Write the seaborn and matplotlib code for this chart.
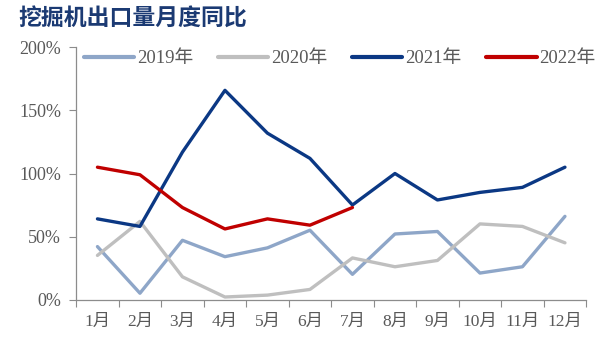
import numpy as np
import pandas as pd
import matplotlib
matplotlib.use("Agg")
import matplotlib.pyplot as plt
import seaborn as sns

# values (%)
months = ["1月", "2月", "3月", "4月", "5月", "6月", "7月", "8月", "9月", "10月", "11月", "12月"]
y2019 = [42, 5, 47, 34, 41, 55, 20, 52, 54, 21, 26, 66]
y2020 = [35, 62, 18, 2, 3.5, 8, 33, 26, 31, 60, 58, 45]
y2021 = [64, 58, 117, 166, 132, 112, 75, 100, 79, 85, 89, 105]
y2022 = [105, 99, 73, 56, 64, 59, 73]
series_names = ["2019年", "2020年", "2021年", "2022年"]
palette = ["#8EA6C8", "#BFBFBF", "#0B3884", "#C00000"]
y_ticks = [0, 50, 100, 150, 200]

rows = []
for name, vals in zip(series_names, [y2019, y2020, y2021, y2022]):
    for i, v in enumerate(vals):
        rows.append({"month": i, "value": v, "year": name})
df = pd.DataFrame(rows)

sns.set_theme(style="white")
plt.rcParams["font.family"] = ["Liberation Serif", "Noto Sans CJK SC"]

fig = plt.figure(figsize=(6, 3.57), dpi=100)
ax = fig.add_axes([0.127, 0.161, 0.85, 0.706])

sns.lineplot(data=df, x="month", y="value", hue="year", hue_order=series_names,
             palette=palette, linewidth=2.4, ax=ax, sort=False)

ax.set_xlim(-0.5, 11.5)
ax.set_ylim(0, 200)
ax.set_xlabel("")
ax.set_ylabel("")

# ticks between categories, labels at the centres
ax.set_xticks(np.arange(-0.5, 12, 1))
ax.set_xticklabels([])
ax.set_xticks(np.arange(12), minor=True)
ax.set_xticklabels(months, minor=True)
ax.tick_params(axis="x", which="major", direction="out", length=5, width=0.8, color="#8C8C8C", bottom=True)
ax.tick_params(axis="x", which="minor", length=0, pad=10, labelsize=12.5, labelcolor="#595959")

ax.set_yticks(y_ticks)
ax.set_yticklabels([f"{t}%" for t in y_ticks])
ax.tick_params(axis="y", direction="out", length=5, width=0.8, color="#8C8C8C", left=True,
               labelsize=13, labelcolor="#595959", pad=6)

for s in ["top", "right"]:
    ax.spines[s].set_visible(False)
for s in ["left", "bottom"]:
    ax.spines[s].set_color("#8C8C8C")
    ax.spines[s].set_linewidth(0.9)

leg = ax.legend(loc="upper left", bbox_to_anchor=(0.0, 1.02), ncol=4, frameon=False,
                handlelength=2.7, handletextpad=0.15, columnspacing=1.3,
                fontsize=13.5, borderaxespad=0)
for t in leg.get_texts():
    t.set_color("#595959")
for h in leg.get_lines():
    h.set_linewidth(3)

fig.text(0.03, 0.95, "挖掘机出口量月度同比", fontsize=16.5, fontweight="bold",
         color="#1B3A73", family=["Noto Sans CJK SC"], va="center", ha="left")

fig.savefig("out.png", dpi=100)
